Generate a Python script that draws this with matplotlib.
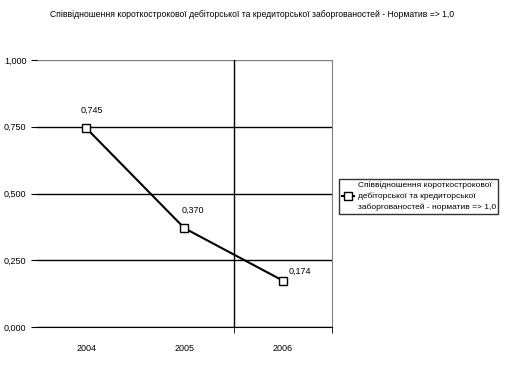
import matplotlib
matplotlib.use('Agg')
import matplotlib.pyplot as plt

plt.rcParams['font.family'] = ['Liberation Sans', 'DejaVu Sans']

years = ['2004', '2005', '2006']
ratio = [0.745, 0.370, 0.174]
value_labels = ['0,745', '0,370', '0,174']
y_ticks = [0.0, 0.25, 0.5, 0.75, 1.0]
y_tick_labels = ['0,000', '0,250', '0,500', '0,750', '1,000']

title = ('Співвідношення короткострокової дебіторської та кредиторської '
         'заборгованостей - Норматив => 1,0')
legend_text = ('Співвідношення короткострокової\nдебіторської та кредиторської\n'
               'заборгованостей - норматив => 1,0')

fig = plt.figure(figsize=(5.05, 3.7), dpi=100)
ax = fig.add_axes([0.0733, 0.116, 0.584, 0.722])

x = list(range(len(years)))
for yv in y_ticks:
    ax.axhline(yv, color='black' if yv < 1 else '#808080', lw=1, zorder=1)
ax.axvline(1.5, color='black', lw=1, zorder=1)

line, = ax.plot(x, ratio, color='black', lw=1.5, marker='s', markersize=6,
                markerfacecolor='white', markeredgecolor='black', zorder=3)
offsets = [(4, 13), (6, 13), (12, 7)]
for xi, yi, lab, off in zip(x, ratio, value_labels, offsets):
    ax.annotate(lab, (xi, yi), xytext=off, textcoords='offset points',
                fontsize=6.5, ha='center', va='center')

ax.set_xlim(-0.5, 2.5)
ax.set_ylim(0, 1)
ax.set_xticks(x)
ax.set_xticklabels(years, fontsize=6.5)
ax.set_xticks([1.5, 2.5], minor=True)
ax.tick_params(axis='x', which='major', length=0, pad=12)
ax.tick_params(axis='x', which='minor', length=4, direction='out')
ax.set_yticks(y_ticks)
ax.set_yticklabels(y_tick_labels, fontsize=6.5)
ax.tick_params(axis='y', length=4, direction='out')

ax.spines['top'].set_visible(False)
ax.spines['left'].set_visible(False)
ax.spines['right'].set_color('#808080')
ax.spines['bottom'].set_color('black')

fig.text(0.5, 0.962, title, ha='center', va='center', fontsize=6.2)

leg = fig.legend([line], [legend_text], loc='center left',
                 bbox_to_anchor=(0.664, 0.47), fontsize=6, frameon=True,
                 fancybox=False, edgecolor='black', handlelength=1.5,
                 borderpad=0.3, handletextpad=0.4)
for t in leg.get_texts():
    t.set_linespacing(1.6)
leg.get_frame().set_linewidth(1)

fig.savefig('out.png', dpi=100)
